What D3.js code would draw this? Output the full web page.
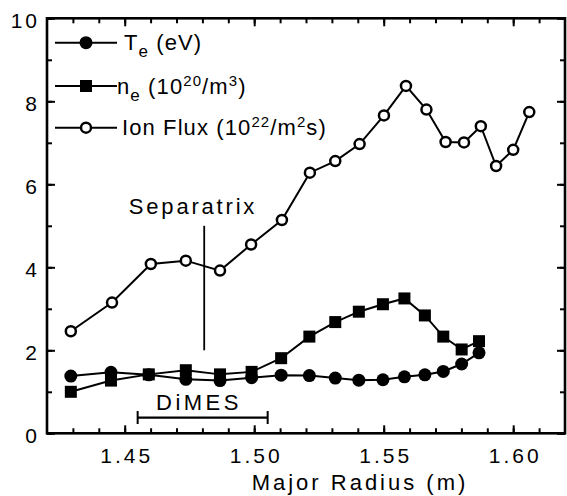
<!DOCTYPE html>
<html>
<head>
<meta charset="utf-8">
<script src="https://cdn.jsdelivr.net/npm/d3@7"></script>
<style>
  body { margin: 0; background: #fff; }
  text { font-family: "Liberation Sans", Arial, sans-serif; fill: #000; }
</style>
</head>
<body>
<div id="chart"></div>
<script>
// radius positions (m) of the probe points
const radiusTeNe = [1.4292, 1.4447, 1.4593, 1.4736, 1.4868, 1.4990, 1.5104, 1.5213,
                    1.5313, 1.5404, 1.5497, 1.5580, 1.5659, 1.5730, 1.5801, 1.5868];
const teValues = [1.38, 1.47, 1.41, 1.30, 1.27, 1.34, 1.40, 1.39,
                  1.33, 1.28, 1.29, 1.36, 1.41, 1.49, 1.67, 1.94];
const neValues = [1.00, 1.27, 1.42, 1.52, 1.42, 1.48, 1.81, 2.33,
                  2.68, 2.93, 3.11, 3.25, 2.84, 2.33, 2.02, 2.22];

const radiusIon = [1.4292, 1.4451, 1.4601, 1.4736, 1.4868, 1.4988, 1.5107, 1.5215, 1.5313, 1.5407,
                   1.5501, 1.5586, 1.5665, 1.5739, 1.5810, 1.5875, 1.5934, 1.6000, 1.6062];
const ionValues = [2.46, 3.15, 4.08, 4.16, 3.92, 4.55, 5.14, 6.28, 6.56, 6.97,
                   7.66, 8.37, 7.80, 7.02, 7.01, 7.40, 6.44, 6.83, 7.74];

const xMajorTicks = [1.45, 1.50, 1.55, 1.60];
const xTickLabels = ["1.45", "1.50", "1.55", "1.60"];
const yMajorTicks = [0, 2, 4, 6, 8, 10];

// annotations
const separatrixR = 1.4807;
const separatrixSpan = [2.0, 5.0];
const dimesSpan = [1.455, 1.5052];
const dimesLevel = 0.38;

let w = 567,
    h = 496;

let svg = d3.select("#chart")
            .append("svg")
            .attr("width", w)
            .attr("height", h);

let x = d3.scaleLinear().domain([1.42, 1.62]).range([47, 565]);
let y = d3.scaleLinear().domain([0, 10]).range([433.3, 18.3]);

let minorX = d3.range(143, 162).map(d => d / 100);
let minorY = d3.range(0, 11);

// ticks, all pointing inward
const tickStyle = g => {
  g.select(".domain").remove();
  g.selectAll(".tick line").attr("stroke", "#000").attr("stroke-width", 2);
};

svg.append("g").attr("transform", `translate(0,${y(0)})`)
   .call(d3.axisBottom(x).tickValues(minorX).tickSize(-5).tickFormat(""))
   .call(tickStyle);
svg.append("g").attr("transform", `translate(0,${y(10)})`)
   .call(d3.axisTop(x).tickValues(minorX).tickSize(-5).tickFormat(""))
   .call(tickStyle);
svg.append("g").attr("transform", `translate(${x(1.42)},0)`)
   .call(d3.axisLeft(y).tickValues(minorY).tickSize(-5).tickFormat(""))
   .call(tickStyle);
svg.append("g").attr("transform", `translate(${x(1.62)},0)`)
   .call(d3.axisRight(y).tickValues(minorY).tickSize(-5).tickFormat(""))
   .call(tickStyle);

// major ticks with labels
let xAxis = svg.append("g").attr("transform", `translate(0,${y(0)})`)
   .call(d3.axisBottom(x).tickValues(xMajorTicks).tickSize(-8).tickPadding(15)
           .tickFormat((d, i) => xTickLabels[i]))
   .call(tickStyle);
xAxis.selectAll("text").style("font-size", "21px").style("letter-spacing", "3px")
     .attr("font-family", null).attr("dx", "1.5px");

svg.append("g").attr("transform", `translate(0,${y(10)})`)
   .call(d3.axisTop(x).tickValues(xMajorTicks).tickSize(-8).tickFormat(""))
   .call(tickStyle);

let yAxis = svg.append("g").attr("transform", `translate(${x(1.42)},0)`)
   .call(d3.axisLeft(y).tickValues(yMajorTicks).tickSize(-8).tickPadding(7).tickFormat(d3.format("d")))
   .call(tickStyle);
yAxis.selectAll("text").style("font-size", "21px").style("letter-spacing", "3px")
     .attr("font-family", null).attr("dy", "0.45em");

svg.append("g").attr("transform", `translate(${x(1.62)},0)`)
   .call(d3.axisRight(y).tickValues(yMajorTicks).tickSize(-8).tickFormat(""))
   .call(tickStyle);

// frame
svg.append("rect")
   .attr("x", x(1.42)).attr("y", y(10))
   .attr("width", x(1.62) - x(1.42)).attr("height", y(0) - y(10))
   .attr("fill", "none").attr("stroke", "#000").attr("stroke-width", 2.6);

svg.append("text")
   .attr("x", 360).attr("y", 490)
   .attr("text-anchor", "middle")
   .style("font-size", "22px").style("letter-spacing", "3px")
   .text("Major Radius (m)");

// separatrix + DiMES annotations
svg.append("line")
   .attr("x1", x(separatrixR)).attr("x2", x(separatrixR))
   .attr("y1", y(separatrixSpan[0])).attr("y2", y(separatrixSpan[1]))
   .attr("stroke", "#000").attr("stroke-width", 1.8);

svg.append("text")
   .attr("x", 193).attr("y", 214.3)
   .attr("text-anchor", "middle")
   .style("font-size", "22px").style("letter-spacing", "2.8px")
   .text("Separatrix");

svg.append("line")
   .attr("x1", x(dimesSpan[0])).attr("x2", x(dimesSpan[1]))
   .attr("y1", y(dimesLevel)).attr("y2", y(dimesLevel))
   .attr("stroke", "#000").attr("stroke-width", 2.2);
dimesSpan.forEach(r => {
  svg.append("line")
     .attr("x1", x(r)).attr("x2", x(r))
     .attr("y1", y(dimesLevel) - 6.5).attr("y2", y(dimesLevel) + 6.5)
     .attr("stroke", "#000").attr("stroke-width", 2);
});

svg.append("text")
   .attr("x", 199).attr("y", 410)
   .attr("text-anchor", "middle")
   .style("font-size", "22px").style("letter-spacing", "3.5px")
   .text("DiMES");

// series
let line = d3.line().x(d => x(d[0])).y(d => y(d[1]));

let teData = radiusTeNe.map((r, i) => [r, teValues[i]]);
let neData = radiusTeNe.map((r, i) => [r, neValues[i]]);
let ionData = radiusIon.map((r, i) => [r, ionValues[i]]);

svg.append("path").datum(teData).attr("d", line)
   .attr("fill", "none").attr("stroke", "#000").attr("stroke-width", 2);
svg.selectAll(".te").data(teData).enter().append("circle")
   .attr("class", "te")
   .attr("cx", d => x(d[0])).attr("cy", d => y(d[1])).attr("r", 6.5)
   .attr("fill", "#000");

svg.append("path").datum(neData).attr("d", line)
   .attr("fill", "none").attr("stroke", "#000").attr("stroke-width", 2);
svg.selectAll(".ne").data(neData).enter().append("rect")
   .attr("class", "ne")
   .attr("x", d => x(d[0]) - 6).attr("y", d => y(d[1]) - 6)
   .attr("width", 12).attr("height", 12)
   .attr("fill", "#000");

svg.append("path").datum(ionData).attr("d", line)
   .attr("fill", "none").attr("stroke", "#000").attr("stroke-width", 2);
svg.selectAll(".ion").data(ionData).enter().append("circle")
   .attr("class", "ion")
   .attr("cx", d => x(d[0])).attr("cy", d => y(d[1])).attr("r", 5)
   .attr("fill", "#fff").attr("stroke", "#000").attr("stroke-width", 2.5);

// legend
let legendRows = [42.7, 86, 127.7];

const legendLine = ly => svg.append("line")
   .attr("x1", 55).attr("x2", 117).attr("y1", ly).attr("y2", ly)
   .attr("stroke", "#000").attr("stroke-width", 2);

legendLine(legendRows[0]);
svg.append("circle").attr("cx", 86).attr("cy", legendRows[0]).attr("r", 6.5).attr("fill", "#000");
legendLine(legendRows[1]);
svg.append("rect").attr("x", 80).attr("y", legendRows[1] - 6).attr("width", 12).attr("height", 12).attr("fill", "#000");
legendLine(legendRows[2]);
svg.append("circle").attr("cx", 86).attr("cy", legendRows[2]).attr("r", 5)
   .attr("fill", "#fff").attr("stroke", "#000").attr("stroke-width", 2.5);

const legendText = (ly, tx) => svg.append("text")
   .attr("x", tx).attr("y", ly + 7.5)
   .style("font-size", "22px").style("letter-spacing", "1.1px");

let t1 = legendText(legendRows[0], 124);
t1.append("tspan").text("T");
t1.append("tspan").attr("dy", 7).style("font-size", "17px").text("e");
t1.append("tspan").attr("dy", -7).text(" (eV)");

let t2 = legendText(legendRows[1], 117);
t2.append("tspan").text("n");
t2.append("tspan").attr("dy", 7).style("font-size", "17px").text("e");
t2.append("tspan").attr("dy", -7).text(" (10");
t2.append("tspan").attr("dy", -8).style("font-size", "15px").text("20");
t2.append("tspan").attr("dy", 8).text("/m");
t2.append("tspan").attr("dy", -8).style("font-size", "15px").text("3");
t2.append("tspan").attr("dy", 8).text(")");

let t3 = legendText(legendRows[2], 122);
t3.append("tspan").text("Ion Flux (10");
t3.append("tspan").attr("dy", -8).style("font-size", "15px").text("22");
t3.append("tspan").attr("dy", 8).text("/m");
t3.append("tspan").attr("dy", -8).style("font-size", "15px").text("2");
t3.append("tspan").attr("dy", 8).text("s)");
</script>
</body>
</html>
